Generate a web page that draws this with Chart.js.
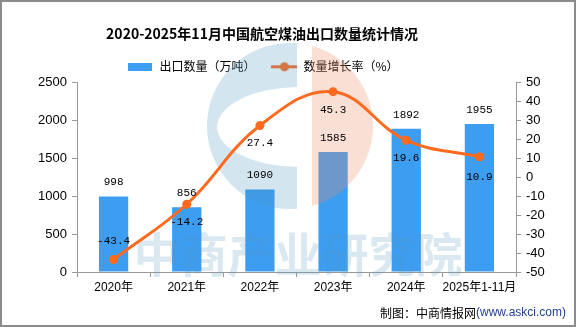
<!DOCTYPE html>
<html>
<head>
<meta charset="utf-8">
<script src="https://cdn.jsdelivr.net/npm/chart.js@4.4.1/dist/chart.umd.min.js"></script>
<style>
html,body{margin:0;padding:0;background:#fff;}
#wrap{width:576px;height:327px;position:relative;}
canvas{display:block;}
</style>
</head>
<body>
<div id="wrap"><canvas id="c" width="576" height="327"></canvas></div>
<script>
// ---- data ----
const categories = ['2020年', '2021年', '2022年', '2023年', '2024年', '2025年1-11月'];
const exportVolume = [998, 856, 1090, 1585, 1892, 1955];      // 出口数量（万吨）
const growthRate = [-43.4, -14.2, 27.4, 45.3, 19.6, 10.9];     // 数量增长率（%）
const leftTicks = [0, 500, 1000, 1500, 2000, 2500];
const rightTicks = [-50, -40, -30, -20, -10, 0, 10, 20, 30, 40, 50];
const titleText = '2020-2025年11月中国航空煤油出口数量统计情况';
const barLabel = '出口数量（万吨）';
const lineLabel = '数量增长率（%）';

// ---- styles ----
const BAR_COLOR = '#3d9df1';
const LINE_COLOR = '#ff6a1e';
const AXIS_COLOR = '#999999';
const CJK = '"Liberation Sans", "Noto Sans CJK SC", sans-serif';

// legend icons
function makeIcon(w, h, draw) {
  const c = document.createElement('canvas');
  c.width = w; c.height = h;
  draw(c.getContext('2d'));
  return c;
}
const barIcon = makeIcon(24, 8, ctx => { ctx.fillStyle = BAR_COLOR; ctx.fillRect(0, 0, 24, 8); });
const lineIcon = makeIcon(26, 11, ctx => {
  ctx.strokeStyle = LINE_COLOR; ctx.lineWidth = 3;
  ctx.beginPath(); ctx.moveTo(0, 5.5); ctx.lineTo(26, 5.5); ctx.stroke();
  ctx.fillStyle = LINE_COLOR; ctx.beginPath(); ctx.arc(13, 5.5, 4.5, 0, Math.PI * 2); ctx.fill();
});

// header blocks are centred a little left of the canvas centre in the reference
const shiftPlugin = {
  id: 'headerShift',
  afterLayout(chart, args, opts) {
    if (chart.titleBlock) { chart.titleBlock.left += opts.title; chart.titleBlock.right += opts.title; }
    if (chart.legend) { chart.legend.left += opts.legend; chart.legend.right += opts.legend; }
  }
};

const watermarkPlugin = {
  id: 'watermark',
  afterDatasetDraw(chart, args) {
    if (args.index !== 0) return;
    const ctx = chart.ctx;
    ctx.save();
    const cx = 290, cy = 126, r = 83;
    ctx.beginPath();
    ctx.rect(0, 0, 297, 400);
    ctx.clip();
    ctx.beginPath();
    ctx.arc(cx, cy, r, 0, Math.PI * 2);
    ctx.ellipse(300, 127, 83, 40, 0, 0, Math.PI * 2, true);
    ctx.fillStyle = 'rgba(80,150,190,0.25)';
    ctx.fill('evenodd');
    ctx.restore();
    ctx.save();
    ctx.beginPath();
    ctx.rect(312, 0, 200, 400);
    ctx.clip();
    ctx.beginPath();
    ctx.arc(cx, cy, r, 0, Math.PI * 2);
    ctx.fillStyle = 'rgba(236,140,100,0.28)';
    ctx.fill();
    ctx.restore();
    ctx.save();
    ctx.font = 'bold 47px "Noto Sans CJK SC"';
    ctx.fillStyle = 'rgba(80,150,190,0.22)';
    ctx.textAlign = 'center';
    ctx.textBaseline = 'middle';
    ctx.fillText('中商产业研究院', 298, 254);
    ctx.restore();
  }
};

const labelsPlugin = {
  id: 'valueLabels',
  afterDatasetsDraw(chart, args, opts) {
    const ctx = chart.ctx;
    ctx.save();
    ctx.font = opts.font;
    ctx.fillStyle = '#000';
    ctx.textAlign = 'center';
    ctx.textBaseline = 'middle';
    const barMeta = chart.getDatasetMeta(0);
    barMeta.data.forEach((el, i) => {
      ctx.fillText(String(chart.data.datasets[0].data[i]), el.x, el.y - opts.barGap);
    });
    const lineMeta = chart.getDatasetMeta(1);
    lineMeta.data.forEach((el, i) => {
      ctx.fillText(chart.data.datasets[1].data[i].toFixed(1), el.x, el.y + opts.lineOffsets[i]);
    });
    ctx.restore();
  }
};

const framePlugin = {
  id: 'frame',
  afterDraw(chart) {
    const ctx = chart.ctx;
    ctx.save();
    ctx.textBaseline = 'middle';
    ctx.textAlign = 'right';
    const src2 = '(www.askci.com)';
    ctx.font = '12px "Liberation Sans"';
    const w2 = ctx.measureText(src2).width;
    ctx.fillStyle = '#1f3f8f';
    ctx.fillText(src2, 566, 313);
    ctx.font = '12px "Noto Sans CJK SC"';
    ctx.fillStyle = '#000';
    ctx.fillText('制图：中商情报网', 566 - w2, 313);
    ctx.strokeStyle = '#8c8c8c';
    ctx.lineWidth = 2;
    ctx.strokeRect(1, 1, 574, 325);
    ctx.restore();
  }
};

new Chart(document.getElementById('c'), {
  data: {
    labels: categories,
    datasets: [
      {
        type: 'bar',
        label: barLabel,
        data: exportVolume,
        backgroundColor: BAR_COLOR,
        yAxisID: 'y',
        barPercentage: 0.4,
        categoryPercentage: 1.0,
        order: 1
      },
      {
        type: 'line',
        label: lineLabel,
        data: growthRate,
        borderColor: LINE_COLOR,
        backgroundColor: LINE_COLOR,
        borderWidth: 3,
        pointRadius: 4.5,
        pointBackgroundColor: LINE_COLOR,
        pointBorderWidth: 0,
        tension: 0.4,
        yAxisID: 'y1',
        order: 0
      }
    ]
  },
  options: {
    responsive: false,
    animation: false,
    devicePixelRatio: 1,
    layout: { padding: { left: 0, right: 0, top: 10, bottom: 0 } },
    plugins: {
      headerShift: { title: -26, legend: -25 },
      title: {
        display: true,
        text: titleText,
        color: '#000',
        font: { family: '"Noto Sans CJK SC"', size: 14, weight: 'bold' },
        padding: { top: 15, bottom: 3 }
      },
      legend: {
        display: true,
        labels: {
          usePointStyle: true,
          pointStyleWidth: 26,
          color: '#000',
          padding: 16,
          font: { family: '"Noto Sans CJK SC"', size: 12 },
          sort: (a, b) => a.datasetIndex - b.datasetIndex,
          generateLabels(chart) {
            const items = Chart.defaults.plugins.legend.labels.generateLabels(chart);
            items.forEach(it => { it.pointStyle = it.datasetIndex === 0 ? barIcon : lineIcon; });
            return items;
          }
        }
      },
      tooltip: { enabled: false },
      valueLabels: {
        font: '11px "Liberation Mono", monospace',
        barGap: 14,
        lineOffsets: [-18, 18, 18, 18, 18, 20]
      }
    },
    scales: {
      x: {
        type: 'category',
        offset: true,
        grid: { display: true, drawOnChartArea: false, drawTicks: true, tickLength: 5, color: AXIS_COLOR, offset: true },
        border: { display: true, color: AXIS_COLOR, width: 1 },
        ticks: { color: '#000', padding: 3, font: { family: CJK, size: 12 }, maxRotation: 0, autoSkip: false },
        afterFit(s) { s.height = 55; }
      },
      y: {
        position: 'left',
        min: 0, max: 2500,
        afterBuildTicks(s) { s.ticks = leftTicks.map(v => ({ value: v })); },
        grid: { display: true, drawOnChartArea: false, drawTicks: true, tickLength: 5, color: AXIS_COLOR },
        border: { display: true, color: AXIS_COLOR, width: 1 },
        ticks: { color: '#000', padding: 5, autoSkip: false, font: { family: CJK, size: 13 }, callback: v => String(v) },
        afterFit(s) { s.width = 77; }
      },
      y1: {
        position: 'right',
        min: -50, max: 50,
        afterBuildTicks(s) { s.ticks = rightTicks.map(v => ({ value: v })); },
        grid: { display: true, drawOnChartArea: false, drawTicks: true, tickLength: 5, color: AXIS_COLOR },
        border: { display: true, color: AXIS_COLOR, width: 1 },
        ticks: { color: '#000', padding: 5, autoSkip: false, font: { family: CJK, size: 13 }, callback: v => String(v) },
        afterFit(s) { s.width = 60; }
      }
    }
  },
  plugins: [shiftPlugin, watermarkPlugin, labelsPlugin, framePlugin]
});
</script>
</body>
</html>
